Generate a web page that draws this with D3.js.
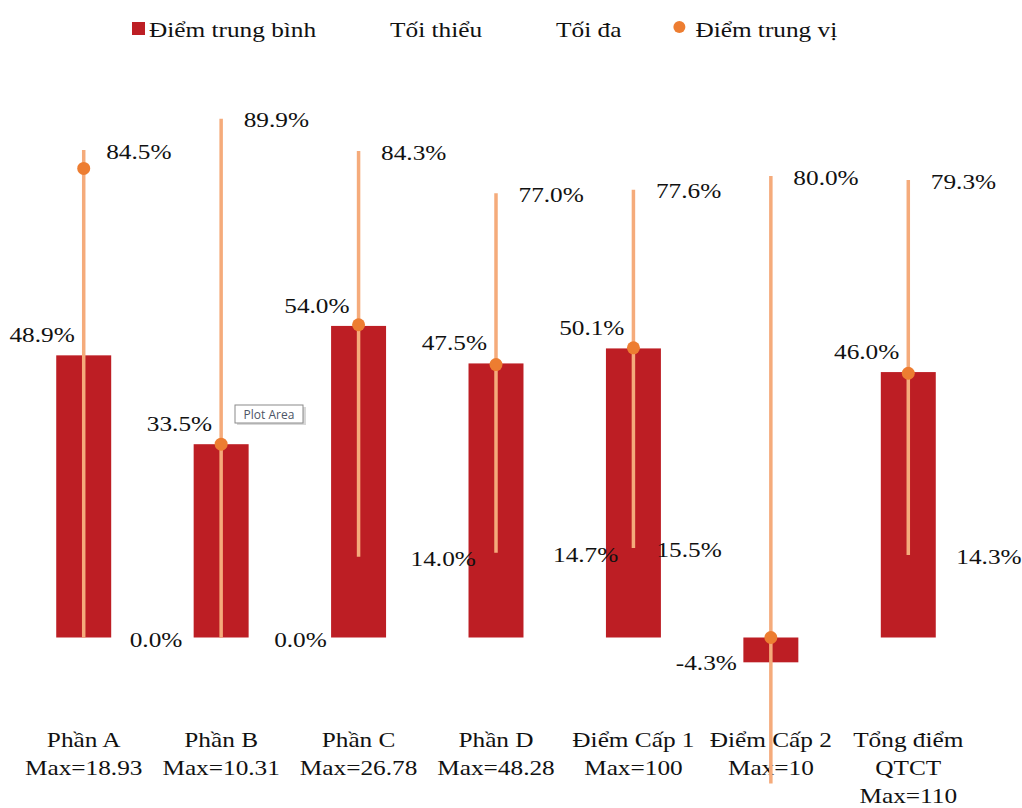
<!DOCTYPE html>
<html>
<head>
<meta charset="utf-8">
<script src="https://cdn.jsdelivr.net/npm/d3@7/dist/d3.min.js"></script>
<style>
  html, body { margin: 0; padding: 0; background: #ffffff; }
  svg { display: block; }
  text { font-family: "Liberation Serif", "Times New Roman", serif; fill: #111; }
</style>
</head>
<body>
<svg id="chart" width="1022" height="808"></svg>
<script>
// ---- data ----
const categories = ["Phần A", "Phần B", "Phần C", "Phần D", "Điểm Cấp 1", "Điểm Cấp 2", "Tổng điểm QTCT"];
const categoryLines = [
  ["Phần A", "Max=18.93"],
  ["Phần B", "Max=10.31"],
  ["Phần C", "Max=26.78"],
  ["Phần D", "Max=48.28"],
  ["Điểm Cấp 1", "Max=100"],
  ["Điểm Cấp 2", "Max=10"],
  ["Tổng điểm", "QTCT", "Max=110"]
];
const meanValues   = [48.9, 33.5, 54.0, 47.5, 50.1, -4.3, 46.0];   // Điểm trung bình
const minValues    = [0.0, 0.0, 14.0, 14.7, 15.5, -25.3, 14.3];    // Tối thiểu
const maxValues    = [84.5, 89.9, 84.3, 77.0, 77.6, 80.0, 79.3];   // Tối đa
const medianValues = [81.3, 33.5, 54.2, 47.3, 50.2, 0.0, 45.8];    // Điểm trung vị
const seriesNames  = ["Điểm trung bình", "Tối thiểu", "Tối đa", "Điểm trung vị"];
const showMinLabel = [true, true, true, true, true, false, true];

// ---- layout (kept apart from the data) ----
const minLabelNudge = [46, 53, 52, 57, 23, 0, 48];
const colors = { bar: "#BD1E24", range: "#F5AB7B", median: "#ED7D31" };
const FS = 22, SX = 1.15;

const svg = d3.select("#chart");
const x = d3.scaleBand().domain(categories).range([15, 977]).paddingInner(0.6).paddingOuter(0.3);
const y = d3.scaleLinear().domain([0, 100]).range([637.5, 60.5]);
const cx = c => x(c) + x.bandwidth() / 2;

function txt(g, px, py, s, anchor, size) {
  return g.append("text")
    .attr("transform", `translate(${px},${py}) scale(${SX},1)`)
    .attr("text-anchor", anchor || "start")
    .style("font-size", (size || FS) + "px")
    .text(s);
}

// category axis labels (drawn below the range lines)
const axisG = svg.append("g");
categories.forEach((c, i) => {
  categoryLines[i].forEach((ln, j) => txt(axisG, cx(c), 747 + j * 28, ln, "middle"));
});

// bars
svg.append("g").selectAll("rect").data(categories).join("rect")
  .attr("x", d => x(d))
  .attr("width", x.bandwidth())
  .attr("y", (d, i) => y(Math.max(0, meanValues[i])))
  .attr("height", (d, i) => Math.abs(y(meanValues[i]) - y(0)))
  .attr("fill", colors.bar);

// min–max lines
svg.append("g").selectAll("line").data(categories).join("line")
  .attr("x1", d => cx(d)).attr("x2", d => cx(d))
  .attr("y1", (d, i) => y(minValues[i]))
  .attr("y2", (d, i) => y(maxValues[i]))
  .attr("stroke", colors.range).attr("stroke-width", 3.5);

// medians
svg.append("g").selectAll("circle").data(categories).join("circle")
  .attr("cx", d => cx(d))
  .attr("cy", (d, i) => y(medianValues[i]))
  .attr("r", 6.5)
  .attr("fill", colors.median);

// labels
const lab = svg.append("g");
const fmt = v => v.toFixed(1) + "%";
categories.forEach((c, i) => {
  const m = meanValues[i];
  if (m >= 0) txt(lab, cx(c) - 9, y(m) - 13, fmt(m), "end");
  else txt(lab, cx(c) - 34, y(m) + 8, fmt(m), "end");
  txt(lab, cx(c) + 22.5, y(maxValues[i]) + 8.6, fmt(maxValues[i]), "start");
  if (showMinLabel[i]) txt(lab, cx(c) + minLabelNudge[i], y(minValues[i]) + 9.3, fmt(minValues[i]), "start");
});

// legend
const leg = svg.append("g");
let lx = 149;
seriesNames.forEach((name, i) => {
  if (i === 0) leg.append("rect").attr("x", lx - 17).attr("y", 22).attr("width", 13).attr("height", 13).attr("fill", colors.bar);
  if (i === 3) leg.append("circle").attr("cx", lx - 16).attr("cy", 27).attr("r", 6).attr("fill", colors.median);
  const t = txt(leg, lx, 37, name, "start");
  lx += t.node().getComputedTextLength() * SX + 74;
});

// Excel "Plot Area" tooltip seen in the picture
const tip = svg.append("g");
tip.append("rect").attr("x", 237).attr("y", 407).attr("width", 69).attr("height", 18).attr("fill", "#d8d8d8");
tip.append("rect").attr("x", 235).attr("y", 405).attr("width", 68).attr("height", 18).attr("fill", "#ffffff").attr("stroke", "#8a8a8a").attr("stroke-width", 1);
tip.append("text").attr("x", 269).attr("y", 418.5).attr("text-anchor", "middle")
  .style("font-family", "'Open Sans', 'DejaVu Sans', sans-serif").style("font-size", "12px").style("fill", "#4d5566")
  .text("Plot Area");
</script>
</body>
</html>
